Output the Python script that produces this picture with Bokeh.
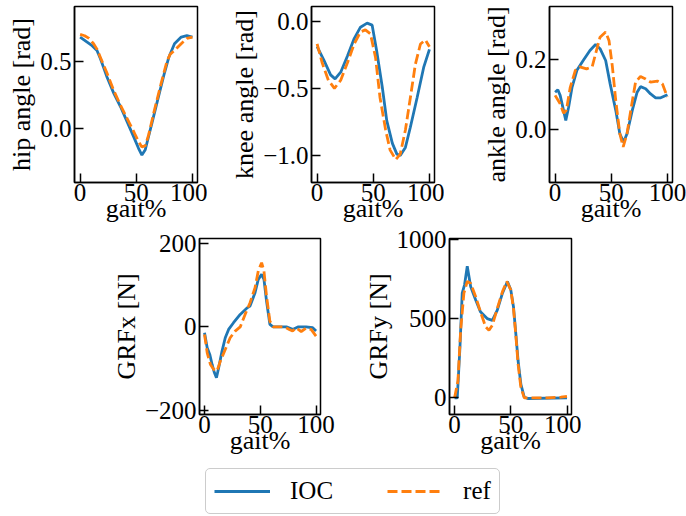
from bokeh.plotting import figure
from bokeh.models import (Range1d, FixedTicker, CustomJSTickFormatter, Legend,
                          LegendItem, Spacer)
from bokeh.layouts import row, column
from bokeh.embed import file_html
from bokeh.resources import INLINE

FONT = "Liberation Serif"
TICK_FS = "25px"
LABEL_FS = "26px"
BLUE = "#1f77b4"
ORANGE = "#ff7f0e"

# ---------------- data ----------------
hip_ioc_x = [0, 5, 10, 15, 18, 21, 24, 30, 36, 42, 48, 52, 55, 58, 61, 64, 69, 75, 79, 84, 90, 95, 100]
hip_ioc = [0.68, 0.65, 0.62, 0.58, 0.52, 0.45, 0.38, 0.26, 0.16, 0.045, -0.07, -0.15, -0.20, -0.16,
           -0.06, 0.04, 0.21, 0.41, 0.53, 0.63, 0.68, 0.69, 0.68]
hip_ref_x = [0, 4, 8, 12, 15, 18, 24, 30, 36, 42, 48, 52, 55, 58, 61, 66, 72, 77, 80, 84, 90, 95, 100]
hip_ref = [0.70, 0.69, 0.67, 0.63, 0.59, 0.53, 0.41, 0.28, 0.17, 0.07, -0.03, -0.10, -0.14, -0.13,
           -0.05, 0.13, 0.33, 0.49, 0.55, 0.58, 0.63, 0.67, 0.68]

knee_ioc_x = [0, 6, 12, 16, 21, 27, 33, 38.6, 44.5, 49, 53, 58, 62, 67, 71, 74, 78.6, 83, 89, 95, 100]
knee_ioc = [-0.19, -0.29, -0.40, -0.43, -0.38, -0.26, -0.13, -0.045, -0.015, -0.03, -0.22, -0.49,
            -0.74, -0.91, -0.99, -1.0, -0.94, -0.79, -0.57, -0.34, -0.21]
knee_ref_x = [0, 4.5, 10, 15.4, 21, 27, 33, 38.6, 43, 47.5, 52, 56, 61, 65, 70, 74, 78.6, 83, 87.5,
              92, 96.4, 100]
knee_ref = [-0.17, -0.31, -0.44, -0.50, -0.44, -0.31, -0.17, -0.08, -0.065, -0.095, -0.27, -0.57,
            -0.81, -0.96, -1.03, -0.99, -0.81, -0.57, -0.32, -0.17, -0.14, -0.19]

ankle_ioc_x = [0, 2.4, 4.5, 7.5, 9.5, 12, 15, 19.4, 25, 31, 36, 40, 45, 49, 54, 57.6, 61, 64, 68.7,
               73, 76, 80.6, 85, 89.5, 94, 100]
ankle_ioc = [0.107, 0.114, 0.098, 0.055, 0.026, 0.064, 0.12, 0.17, 0.198, 0.227, 0.244, 0.232, 0.198,
             0.131, 0.055, -0.012, -0.036, -0.012, 0.055, 0.107, 0.123, 0.117, 0.102, 0.091, 0.091, 0.10]
ankle_ref_x = [0, 4.5, 7.5, 10, 13.4, 18, 22, 28, 33, 36, 40, 45, 48, 51, 54, 57.6, 60.6, 64, 67.8,
               71.6, 76, 80.6, 85, 91, 95.5, 100]
ankle_ref = [0.098, 0.074, 0.047, 0.055, 0.12, 0.17, 0.18, 0.174, 0.18, 0.217, 0.265, 0.28, 0.255,
             0.18, 0.083, -0.012, -0.05, -0.012, 0.064, 0.136, 0.152, 0.145, 0.136, 0.139, 0.131, 0.093]

grfx_ioc_x = [0, 2.4, 4.7, 6.8, 8.9, 10.7, 12.7, 15.7, 18.6, 21.6, 26, 32, 37.9, 40.8, 45.3, 48.2,
              51.2, 53.3, 55.6, 58.6, 61.5, 73.4, 79, 83.7, 91, 97, 100]
grfx_ioc = [-14, -50, -66, -90, -110, -122, -98, -58, -26, -6, 10, 30, 45, 50, 82, 114, 126, 114, 62,
            6, 0, 0, -6, 0, 0, -2, -10]
grfx_ref_x = [0, 2.4, 5.3, 8.3, 11.2, 14.2, 18.6, 23, 27.5, 32, 36.4, 40.8, 45.3, 48.2, 51.2, 53.3,
              55.6, 58.6, 61.5, 72, 76, 79, 82, 86.7, 91, 95.6, 100]
grfx_ref = [-18, -62, -90, -102, -106, -82, -54, -26, -10, 0, 30, 58, 94, 134, 154, 134, 74, 14, 0, 0,
            -6, -10, -2, -11, -3, -6, -22]

grfy_ioc_x = [0, 2.4, 4.8, 6.8, 8.9, 11.3, 14.3, 18.8, 23, 29, 33.6, 38, 42.6, 47, 50, 52.4, 54.5,
              56.5, 59, 62, 65, 100]
grfy_ioc = [0, 0, 319, 660, 713, 830, 702, 617, 543, 500, 489, 553, 660, 734, 681, 575, 404, 234, 85,
            4, -4, 0]
grfy_ref_x = [0, 3, 5.4, 8.3, 11.3, 14.3, 18.8, 23, 27.7, 30.6, 33.6, 38, 42.6, 46.4, 50, 52.4, 54.5,
              56.5, 59, 62, 82.7, 94.6, 100]
grfy_ref = [0, 106, 425, 660, 734, 723, 638, 543, 447, 426, 458, 564, 670, 734, 681, 564, 394, 213,
            64, 0, 0, 4, 10]

x_ticks = [0, 50, 100]
x_label = "gait%"
series_labels = ["IOC", "ref"]


def fmt(dec):
    return CustomJSTickFormatter(
        code="const s = Math.abs(tick).toFixed(%d); return tick < -1e-9 ? '\u2212' + s : s;" % dec)


def panel(xr, yr, yticks, ydec, ylabel, fw, fh, bl, br, bt, bb,
          xi, yi, xr_ref, yr_ref):
    p = figure(frame_width=fw, frame_height=fh,
               x_range=Range1d(*xr), y_range=Range1d(*yr),
               min_border_left=bl, min_border_right=br,
               min_border_top=bt, min_border_bottom=bb,
               output_backend="svg", toolbar_location=None)
    p.xgrid.visible = False
    p.ygrid.visible = False
    p.outline_line_color = "black"
    p.outline_line_width = 1.5
    p.outline_line_alpha = 1.0
    p.background_fill_color = "white"
    p.border_fill_color = None
    for ax in (p.xaxis[0], p.yaxis[0]):
        ax.major_tick_in = 9
        ax.major_tick_out = 0
        ax.minor_tick_line_color = None
        ax.major_tick_line_width = 1.5
        ax.major_tick_line_color = "black"
        ax.axis_line_width = 1.5
        ax.axis_line_color = "black"
        ax.major_label_text_font = FONT
        ax.major_label_text_font_size = TICK_FS
        ax.major_label_text_color = "black"
        ax.axis_label_text_font = FONT
        ax.axis_label_text_font_size = LABEL_FS
        ax.axis_label_text_font_style = "normal"
        ax.axis_label_text_color = "black"
    p.xaxis[0].ticker = FixedTicker(ticks=x_ticks)
    p.xaxis[0].formatter = fmt(0)
    p.xaxis[0].axis_label = x_label
    p.xaxis[0].major_label_standoff = 1
    p.xaxis[0].axis_label_standoff = -10
    p.yaxis[0].ticker = FixedTicker(ticks=yticks)
    p.yaxis[0].formatter = fmt(ydec)
    p.yaxis[0].axis_label = ylabel
    p.yaxis[0].major_label_standoff = 3
    p.yaxis[0].axis_label_standoff = 1
    p.line(xi, yi, line_color=BLUE, line_width=2.8)
    p.line(xr_ref, yr_ref, line_color=ORANGE, line_width=2.8, line_dash="10 4")
    return p


XR = (-5, 104.5)
p1 = panel(XR, (-0.405, 0.908), [0.0, 0.5], 1, "hip angle [rad]", 123, 176, 74, 10, 6, 56,
           hip_ioc_x, hip_ioc, hip_ref_x, hip_ref)
p2 = panel(XR, (-1.201, 0.109), [-1.0, -0.5, 0.0], 1, "knee angle [rad]", 123, 176, 104, 10, 6, 56,
           knee_ioc_x, knee_ioc, knee_ref_x, knee_ref)
p3 = panel(XR, (-0.152, 0.353), [0.0, 0.2], 1, "ankle angle [rad]", 123, 176, 105, 14, 6, 56,
           ankle_ioc_x, ankle_ioc, ankle_ref_x, ankle_ref)

XB = (-4.5, 104)
p4 = panel(XB, (-210, 212), [-200, 0, 200], 0, "GRFx [N]", 121, 176, 87, 40, 16, 56,
           grfx_ioc_x, grfx_ioc, grfx_ref_x, grfx_ref)
p5 = panel(XB, (-105, 1005), [0, 500, 1000], 0, "GRFy [N]", 122, 176, 85, 10, 16, 56,
           grfy_ioc_x, grfy_ioc, grfy_ref_x, grfy_ref)

# legend strip (its sample lines are drawn outside the strip's visible range)
pl = figure(width=686, height=56, x_range=Range1d(1000, 1001), y_range=Range1d(1000, 1001),
            x_axis_type=None, y_axis_type=None, min_border=0,
            output_backend="svg", toolbar_location=None)
pl.outline_line_color = None
pl.xgrid.visible = False
pl.ygrid.visible = False
pl.border_fill_color = None
pl.background_fill_color = None
r_ioc = pl.line(hip_ioc_x, hip_ioc, line_color=BLUE, line_width=2.8)
r_ref = pl.line(hip_ref_x, hip_ref, line_color=ORANGE, line_width=2.8, line_dash="10 4")
leg = Legend(items=[LegendItem(label=series_labels[0], renderers=[r_ioc]),
                    LegendItem(label=series_labels[1], renderers=[r_ref])],
             orientation="horizontal", location=(205, 1),
             glyph_width=56, glyph_height=20, label_standoff=20, spacing=54, padding=8,
             label_text_font=FONT, label_text_font_size=TICK_FS, label_text_color="black",
             border_line_color="#cccccc", border_line_width=1.5, border_line_alpha=1.0,
             background_fill_color="white", background_fill_alpha=1.0)
if "border_radius" in Legend.properties():
    leg.border_radius = 5
pl.add_layout(leg, "center")

top = row(p1, p2, p3)
bottom = row(Spacer(width=108, height=10), p4, p5, margin=(-16, 0, 0, 0))
pl.margin = (-11, 0, 0, 0)
layout = column(top, bottom, pl)

open("out.html", "w").write(file_html(layout, INLINE))
